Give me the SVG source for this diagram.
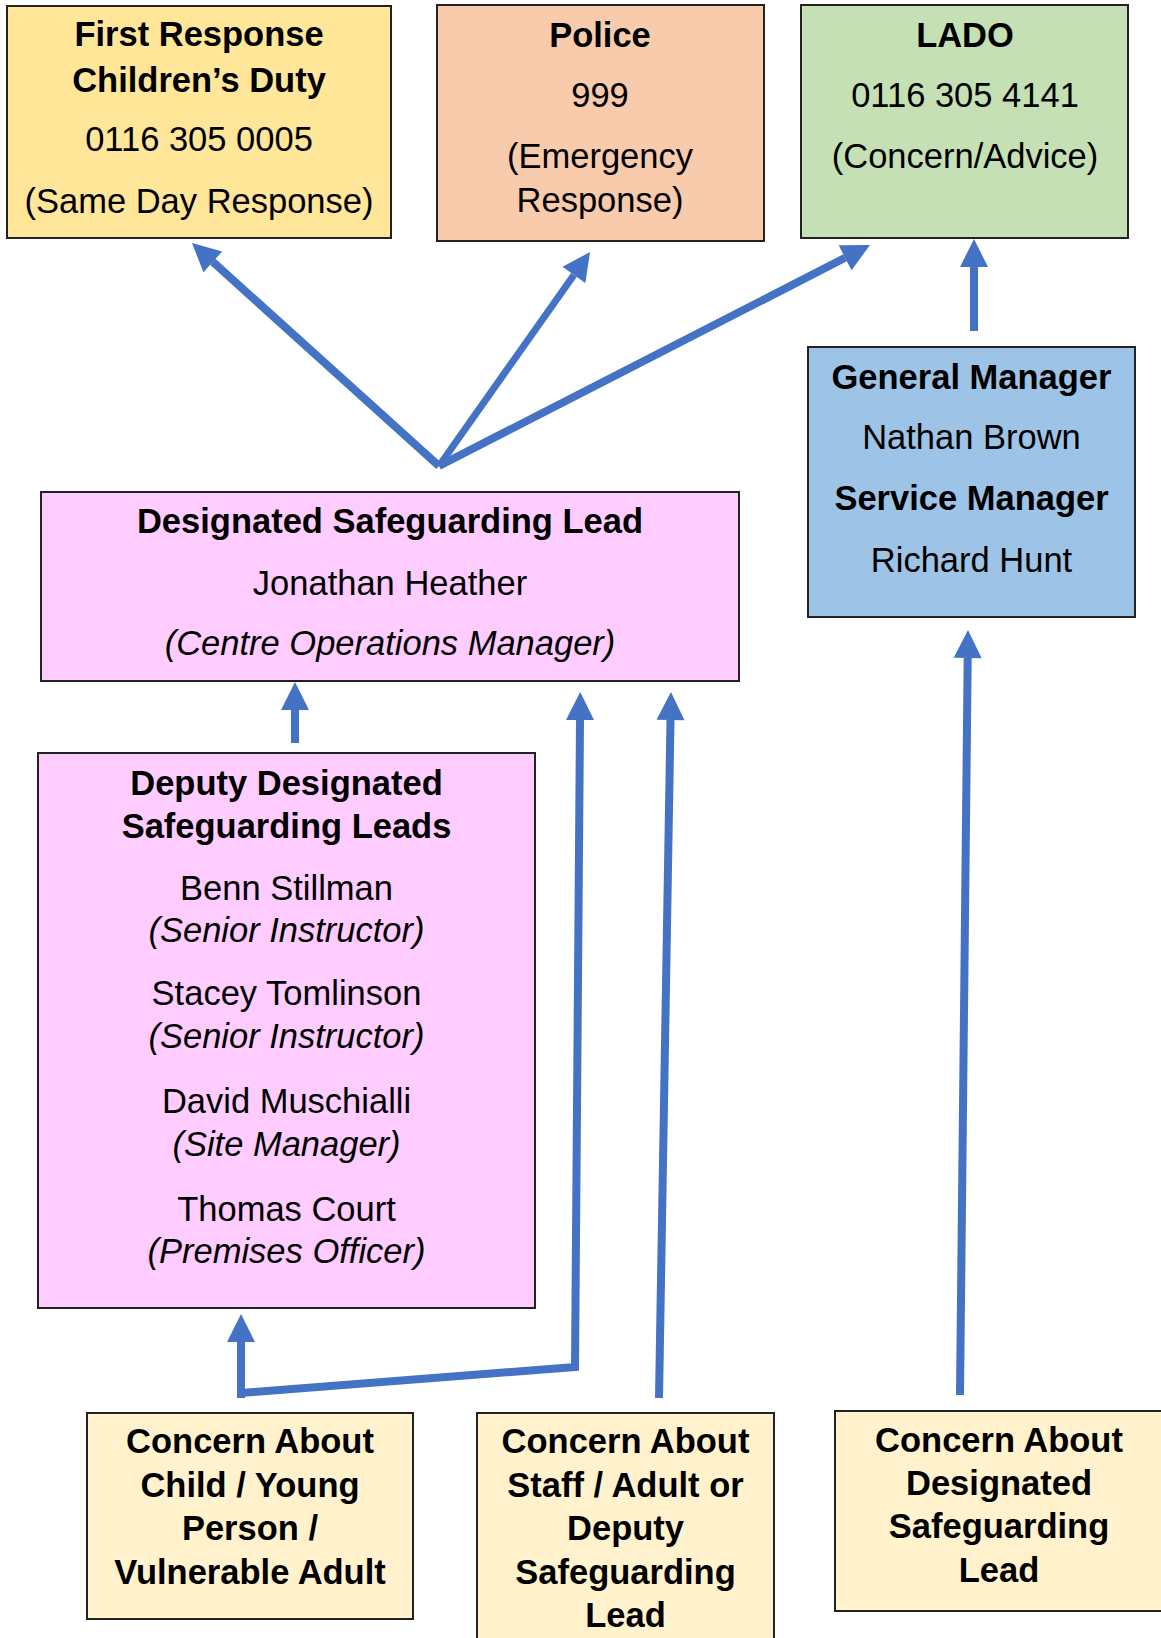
<svg xmlns="http://www.w3.org/2000/svg" width="1161" height="1638" viewBox="0 0 1161 1638">
<style>
  .box { stroke: #222; stroke-width: 2; }
  text { font-family: "Liberation Sans", Arial, sans-serif; font-size: 34.5px; fill: #000; text-anchor: middle; }
  .b { font-weight: bold; }
  .i { font-style: italic; }
  .conn { fill: none; stroke: #4472C4; stroke-width: 8; stroke-linejoin: miter; }
</style>
<defs>
  <marker id="ah" markerUnits="userSpaceOnUse" markerWidth="30" markerHeight="30" refX="0" refY="14" orient="auto" overflow="visible">
    <path d="M0,0 L28,14 L0,28 Z" fill="#4472C4"/>
  </marker>
</defs>
<rect width="1161" height="1638" fill="#fff"/>

<g id="connectors">
  <path class="conn" d="M439,466 L212.8,261.8" marker-end="url(#ah)"/>
  <path class="conn" d="M439,466 L573.9,274.9" marker-end="url(#ah)" style="stroke-width:7"/>
  <path class="conn" d="M439,466 L845.1,257.8" marker-end="url(#ah)"/>
  <path class="conn" d="M974,331 L974,267" marker-end="url(#ah)"/>
  <path class="conn" d="M295,743 L295,710" marker-end="url(#ah)"/>
  <path class="conn" d="M241,1398 L241,1342" marker-end="url(#ah)"/>
  <path class="conn" d="M241,1393 L575,1367 L580,720" marker-end="url(#ah)"/>
  <path class="conn" d="M659,1398 L670.5,720" marker-end="url(#ah)"/>
  <path class="conn" d="M960,1395 L967.7,658" marker-end="url(#ah)"/>
</g>

<g id="first-response">
  <rect class="box" x="7" y="6" width="384" height="232" fill="#FFE699"/>
  <text class="b" x="199" y="46">First Response</text>
  <text class="b" x="199" y="92">Children’s Duty</text>
  <text x="199" y="151">0116 305 0005</text>
  <text x="199" y="213">(Same Day Response)</text>
</g>

<g id="police">
  <rect class="box" x="437" y="5" width="327" height="236" fill="#F8CBAD"/>
  <text class="b" x="600" y="47">Police</text>
  <text x="600" y="107">999</text>
  <text x="600" y="168">(Emergency</text>
  <text x="600" y="212">Response)</text>
</g>

<g id="lado">
  <rect class="box" x="801" y="5" width="327" height="233" fill="#C5E0B4"/>
  <text class="b" x="965" y="47">LADO</text>
  <text x="965" y="107">0116 305 4141</text>
  <text x="965" y="168">(Concern/Advice)</text>
</g>

<g id="general-manager">
  <rect class="box" x="808" y="347" width="327" height="270" fill="#9DC3E6"/>
  <text class="b" x="971.5" y="389">General Manager</text>
  <text x="971.5" y="449">Nathan Brown</text>
  <text class="b" x="971.5" y="510">Service Manager</text>
  <text x="971.5" y="572">Richard Hunt</text>
</g>

<g id="dsl">
  <rect class="box" x="41" y="492" width="698" height="189" fill="#FFCCFF"/>
  <text class="b" x="390" y="533">Designated Safeguarding Lead</text>
  <text x="390" y="595">Jonathan Heather</text>
  <text class="i" x="390" y="655">(Centre Operations Manager)</text>
</g>

<g id="deputy-dsl">
  <rect class="box" x="38" y="753" width="497" height="555" fill="#FFCCFF"/>
  <text class="b" x="286.5" y="795">Deputy Designated</text>
  <text class="b" x="286.5" y="838">Safeguarding Leads</text>
  <text x="286.5" y="900">Benn Stillman</text>
  <text class="i" x="286.5" y="942">(Senior Instructor)</text>
  <text x="286.5" y="1005">Stacey Tomlinson</text>
  <text class="i" x="286.5" y="1048">(Senior Instructor)</text>
  <text x="286.5" y="1113">David Muschialli</text>
  <text class="i" x="286.5" y="1156">(Site Manager)</text>
  <text x="286.5" y="1221">Thomas Court</text>
  <text class="i" x="286.5" y="1263">(Premises Officer)</text>
</g>

<g id="concern-child">
  <rect class="box" x="87" y="1413" width="326" height="206" fill="#FFF2CC"/>
  <text class="b" x="250" y="1453">Concern About</text>
  <text class="b" x="250" y="1497">Child / Young</text>
  <text class="b" x="250" y="1540">Person /</text>
  <text class="b" x="250" y="1584">Vulnerable Adult</text>
</g>

<g id="concern-staff">
  <rect class="box" x="477" y="1413" width="297" height="240" fill="#FFF2CC"/>
  <text class="b" x="625.5" y="1453">Concern About</text>
  <text class="b" x="625.5" y="1497">Staff / Adult or</text>
  <text class="b" x="625.5" y="1540">Deputy</text>
  <text class="b" x="625.5" y="1584">Safeguarding</text>
  <text class="b" x="625.5" y="1627">Lead</text>
</g>

<g id="concern-dsl">
  <rect class="box" x="835" y="1411" width="330" height="200" fill="#FFF2CC"/>
  <text class="b" x="999" y="1452">Concern About</text>
  <text class="b" x="999" y="1495">Designated</text>
  <text class="b" x="999" y="1538">Safeguarding</text>
  <text class="b" x="999" y="1582">Lead</text>
</g>
</svg>
